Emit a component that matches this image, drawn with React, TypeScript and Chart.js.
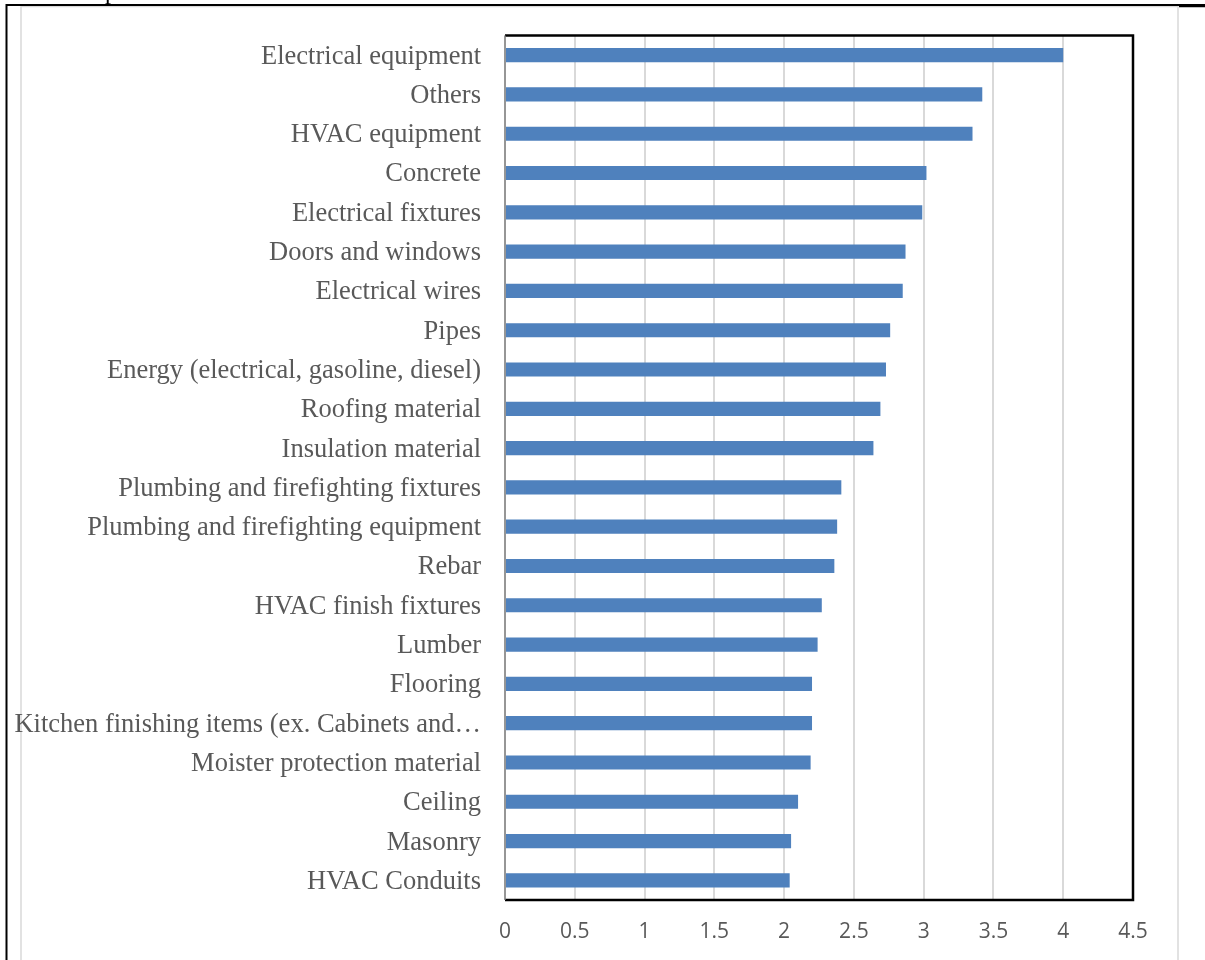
import React, { useEffect, useRef } from "react";
import { Chart, registerables } from "chart.js";

Chart.register(...registerables);

// Categories, listed top to bottom
const categories: string[] = [
  "Electrical equipment",
  "Others",
  "HVAC equipment",
  "Concrete",
  "Electrical fixtures",
  "Doors and windows",
  "Electrical wires",
  "Pipes",
  "Energy (electrical, gasoline, diesel)",
  "Roofing material",
  "Insulation material",
  "Plumbing and firefighting fixtures",
  "Plumbing and firefighting equipment",
  "Rebar",
  "HVAC finish fixtures",
  "Lumber",
  "Flooring",
  "Kitchen finishing items (ex. Cabinets and…",
  "Moister protection material",
  "Ceiling",
  "Masonry",
  "HVAC Conduits",
];

// Mean score for each category
const scores: number[] = [
  4.0, 3.42, 3.35, 3.02, 2.99, 2.87, 2.85, 2.76, 2.73, 2.69, 2.64, 2.41, 2.38,
  2.36, 2.27, 2.24, 2.2, 2.2, 2.19, 2.1, 2.05, 2.04,
];

// Value axis tick labels
const xTickValues: number[] = [0, 0.5, 1, 1.5, 2, 2.5, 3, 3.5, 4, 4.5];
const xTickLabels: string[] = ["0", "0.5", "1", "1.5", "2", "2.5", "3", "3.5", "4", "4.5"];

const W = 1205;
const H = 960;

// Page frame, outer chart border and plot-area box
const framePlugin = {
  id: "frame",
  beforeDraw(chart: any) {
    const ctx = chart.ctx as CanvasRenderingContext2D;
    ctx.save();
    ctx.fillStyle = "#ffffff";
    ctx.fillRect(0, 0, W, H);

    // text line sitting above the chart, mostly cut off
    ctx.fillStyle = "#000000";
    ctx.font = "24px 'Liberation Serif', 'Times New Roman', serif";
    ctx.textBaseline = "alphabetic";
    ctx.textAlign = "left";
    ctx.fillText("p", 105, -1);

    // light grey chart border
    ctx.strokeStyle = "#d9d9d9";
    ctx.lineWidth = 1.5;
    ctx.beginPath();
    ctx.moveTo(21, H + 2);
    ctx.lineTo(21, 6.5);
    ctx.lineTo(1178, 6.5);
    ctx.lineTo(1178, H + 2);
    ctx.stroke();

    // black page rules
    ctx.strokeStyle = "#000000";
    ctx.lineWidth = 2;
    ctx.beginPath();
    ctx.moveTo(6.5, H + 2);
    ctx.lineTo(6.5, 5);
    ctx.lineTo(W + 2, 5);
    ctx.stroke();
    ctx.lineWidth = 1.5;
    ctx.beginPath();
    ctx.moveTo(1179, 6.5);
    ctx.lineTo(W + 2, 6.5);
    ctx.stroke();
    ctx.restore();
  },
  afterDatasetsDraw(chart: any) {
    const ctx = chart.ctx as CanvasRenderingContext2D;
    const { left, right, top, bottom } = chart.chartArea;
    ctx.save();
    ctx.strokeStyle = "#000000";
    ctx.lineWidth = 2.5;
    ctx.beginPath();
    ctx.moveTo(left, top);
    ctx.lineTo(right, top);
    ctx.lineTo(right, bottom);
    ctx.lineTo(left, bottom);
    ctx.stroke();
    ctx.strokeStyle = "#7f7f7f";
    ctx.lineWidth = 1.5;
    ctx.beginPath();
    ctx.moveTo(left, top);
    ctx.lineTo(left, bottom);
    ctx.stroke();
    ctx.restore();
  },
};

export default function App() {
  const canvasRef = useRef<HTMLCanvasElement | null>(null);

  useEffect(() => {
    const canvas = canvasRef.current;
    if (!canvas) return;
    const chart = new Chart(canvas, {
      type: "bar",
      data: {
        labels: categories,
        datasets: [
          {
            data: scores,
            backgroundColor: "#4f81bd",
            borderWidth: 0,
            barPercentage: 0.36,
            categoryPercentage: 1,
          },
        ],
      },
      options: {
        indexAxis: "y",
        responsive: false,
        animation: false,
        devicePixelRatio: 1,
        layout: { padding: { left: 0, top: 35.5, right: 72, bottom: 0 } },
        plugins: {
          legend: { display: false },
          tooltip: { enabled: false },
          title: { display: false },
        },
        scales: {
          x: {
            type: "linear",
            min: 0,
            max: 4.5,
            afterBuildTicks: (axis: any) => {
              axis.ticks = xTickValues.map((v) => ({ value: v }));
            },
            afterFit: (scale: any) => {
              scale.height = 60;
              scale.paddingLeft = 0;
              scale.paddingRight = 0;
            },
            border: { display: false },
            grid: {
              color: "#d9d9d9",
              lineWidth: 2,
              drawTicks: false,
            },
            ticks: {
              padding: 19,
              color: "#595959",
              font: { family: "'Open Sans', 'Liberation Sans', sans-serif", size: 21 },
              maxRotation: 0,
              callback: (_v: any, i: number) => xTickLabels[i],
            },
          },
          y: {
            type: "category",
            afterFit: (scale: any) => {
              scale.width = 505;
              scale.paddingTop = 0;
              scale.paddingBottom = 0;
            },
            border: { display: false },
            grid: { display: false, drawTicks: false },
            ticks: {
              padding: 24,
              labelOffset: 1.5,
              color: "#595959",
              autoSkip: false,
              font: { family: "'Liberation Serif', 'Times New Roman', serif", size: 26.5 },
            },
          },
        },
      },
      plugins: [framePlugin],
    } as any);
    return () => chart.destroy();
  }, []);

  return (
    <div style={{ position: "absolute", left: 0, top: 0, width: W, height: H, overflow: "hidden" }}>
      <canvas ref={canvasRef} width={W} height={H} style={{ display: "block", width: W, height: H }} />
    </div>
  );
}
